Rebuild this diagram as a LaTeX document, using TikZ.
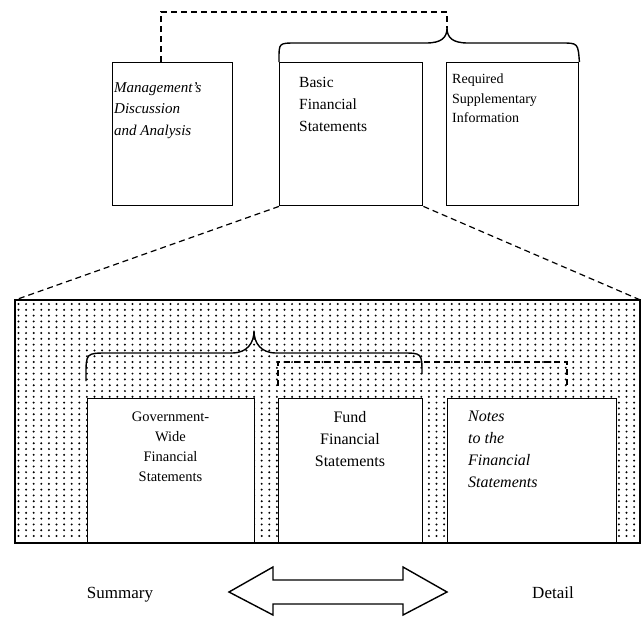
\documentclass[tikz,border=0pt]{standalone}
\usepackage{fontspec}
\setmainfont{Liberation Serif}
\begin{document}
\begin{tikzpicture}[x=1pt,y=-1pt,
  box/.style={draw, line width=1.4pt, fill=white, inner sep=0pt, anchor=north west},
  txt/.style={inner sep=0pt, anchor=north west, align=left},
  ctxt/.style={inner sep=0pt, anchor=north, align=center},
  dsh/.style={line width=1.2pt, dash pattern=on 6pt off 4pt},
  brace/.style={line width=1.4pt, line join=round}]
\useasboundingbox (0,0) rectangle (644,616);
% big dotted rectangle
\node[box, fill=none, minimum width=624pt, minimum height=242pt] (big) at (15,300) {};
\foreach \i in {0,...,81}{\foreach \j in {0,...,40}{\fill (18.5+\i*7.6, 304+\j*5.8) circle (1.1pt);}}
% top boxes
\node[box, minimum width=120pt, minimum height=143pt] (mda) at (112,62) {};
\node[box, minimum width=143pt, minimum height=143pt] (bfs) at (279,62) {};
\node[box, minimum width=132pt, minimum height=143pt] (rsi) at (446,62) {};
% bottom boxes
\node[box, minimum width=167pt, minimum height=144pt] (gov) at (87,398) {};
\node[box, minimum width=144pt, minimum height=144pt] (fund) at (278,398) {};
\node[box, minimum width=169pt, minimum height=144pt] (notes) at (447,398) {};
\draw[line width=1.4pt] (big.north west) rectangle (big.south east);
% texts
\node[txt, font={\itshape\fontsize{15}{21.5}\selectfont}] (tmda) at (114,82) {Management’s\\Discussion\\and Analysis};
\node[txt, font={\fontsize{15.5}{22}\selectfont}] (tbfs) at (299,77) {Basic\\Financial\\Statements};
\node[txt, font={\fontsize{14}{19.5}\selectfont}] (trsi) at (452,74) {Required\\Supplementary\\Information};
\node[ctxt, font={\fontsize{14.5}{20}\selectfont}] (tgov) at (170.5,412) {Government-\\Wide\\Financial\\Statements};
\node[ctxt, font={\fontsize{16}{22}\selectfont}] (tfund) at (350,411) {Fund\\Financial\\Statements};
\node[txt, font={\itshape\fontsize{16}{22}\selectfont}] (tnotes) at (468,411) {Notes\\to the\\Financial\\Statements};
% zoom lines
\draw[dsh] (bfs.south west) -- (big.north west);
\draw[dsh] (bfs.south east) -- (big.north east);
% top brace and dashed link
\coordinate (tip1) at (447,28);
\draw[brace] (bfs.north west) -- (279,59) .. controls (279,43) .. (296,43) -- (426,43)
  .. controls (441,43) and (447,38) .. (tip1) .. controls (447,38) and (453,43) .. (468,43)
  -- (561,43) .. controls (578,43) .. (rsi.north east);
\draw[dsh] (mda.north -| 161,0) -- (161,12) -- (447,12) -- (tip1);
% bottom brace and dashed link
\coordinate (tip2) at (254,331);
\draw[brace] (86,381) -- (86,376) .. controls (86,353) .. (108,353) -- (232,353)
  .. controls (247,353) and (254,343) .. (tip2) .. controls (254,343) and (261,353) .. (276,353)
  -- (402,353) .. controls (422,353) .. (422,374);
\draw[dsh] (278,386) -- (278,362) -- (567,362) -- (567,386);
% summary / detail
\node[inner sep=0pt, anchor=base, font={\fontsize{17}{17}\selectfont}] (sum) at (120,598) {Summary};
\node[inner sep=0pt, anchor=base, font={\fontsize{17}{17}\selectfont}] (det) at (553,598) {Detail};
\draw[line width=1.4pt, line join=miter, fill=white] (229,592) -- (273,567) -- (273,580) -- (403,580) -- (403,567) -- (447,592)
  -- (403,615) -- (403,604) -- (273,604) -- (273,615) -- cycle;
\end{tikzpicture}
\end{document}
